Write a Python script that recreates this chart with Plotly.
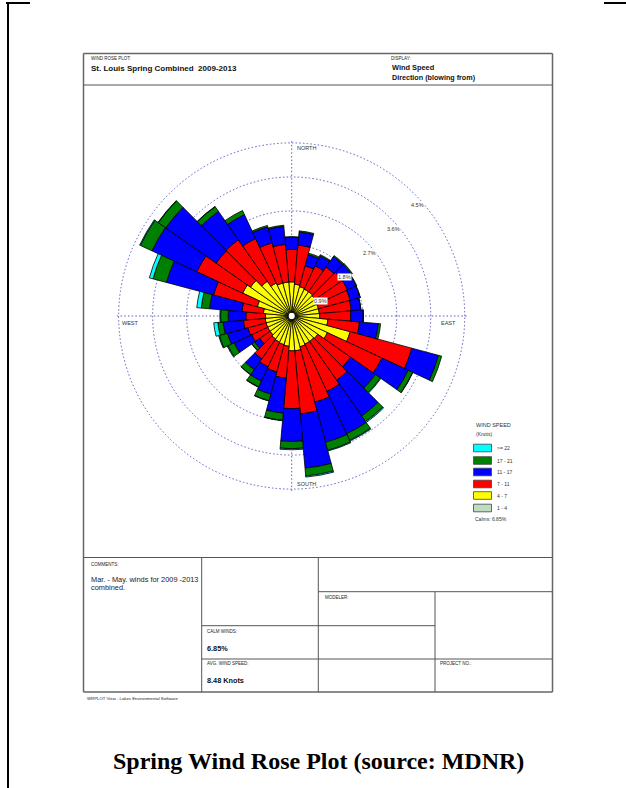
import plotly.graph_objects as go

W, H = 626, 788

directions = [0, 10, 20, 30, 40, 50, 60, 70, 80, 90, 100, 110, 120, 130, 140, 150, 160, 170,
              180, 190, 200, 210, 220, 230, 240, 250, 260, 270, 280, 290, 300, 310, 320, 330, 340, 350]

ws_1_4 = [0.05] * 36
ws_4_7 = [0.77, 0.71, 0.67, 0.65, 0.65, 0.63, 0.61, 0.60, 0.60, 0.61, 0.83, 1.47, 0.91, 0.71, 0.69, 0.69, 0.71, 0.79,
          0.79, 0.67, 0.65, 0.63, 0.61, 0.57, 0.57, 0.57, 0.57, 0.56, 0.62, 0.81, 1.30, 1.20, 0.99, 0.83, 0.77, 0.77]
ws_7_11 = [0.86, 1.04, 0.57, 0.68, 0.80, 0.87, 0.89, 0.87, 0.85, 0.82, 0.84, 1.69, 1.59, 1.06, 1.25, 1.38, 1.52, 1.68,
           1.53, 0.85, 0.75, 0.72, 0.64, 0.33, 0.47, 0.50, 0.58, 0.52, 0.57, 1.20, 1.34, 1.11, 1.34, 1.30, 1.10, 1.00]
ws_11_17 = [0.32, 0.35, 0.31, 0.30, 0.34, 0.30, 0.25, 0.27, 0.25, 0.33, 0.50, 0.73, 0.77, 0.80, 1.16, 1.24, 1.10, 1.44,
            0.87, 0.93, 0.61, 0.42, 0.35, 0.17, 0.51, 0.56, 0.54, 0.47, 0.86, 1.29, 1.31, 1.63, 0.92, 0.70, 0.44, 0.48]
ws_17_21 = [0.02, 0.03, 0.04, 0.03, 0.03, 0.03, 0.02, 0.01, 0.01, 0.01, 0.06, 0.09, 0.13, 0.16, 0.18, 0.19, 0.22, 0.21,
            0.19, 0.19, 0.18, 0.17, 0.16, 0.08, 0.18, 0.22, 0.14, 0.20, 0.22, 0.37, 0.34, 0.24, 0.15, 0.12, 0.04, 0.03]
ws_22 = [0.0, 0.0, 0.0, 0.0, 0.0, 0.0, 0.0, 0.0, 0.0, 0.0, 0.0, 0.0, 0.01, 0.02, 0.03, 0.02, 0.02, 0.03,
         0.03, 0.01, 0.01, 0.01, 0.01, 0.01, 0.02, 0.02, 0.11, 0.02, 0.12, 0.10, 0.02, 0.01, 0.01, 0.0, 0.0, 0.0]

classes = ["1 - 4", "4 - 7", "7 - 11", "11 - 17", "17 - 21", ">= 22"]
class_values = [ws_1_4, ws_4_7, ws_7_11, ws_11_17, ws_17_21, ws_22]
class_colors = ["#c0dcc0", "#ffff00", "#ff0000", "#0000ff", "#008000", "#00ffff"]

ring_values = [0.9, 1.8, 2.7, 3.6, 4.5]
ring_labels = ["0.9%", "1.8%", "2.7%", "3.6%", "4.5%"]
compass_labels = ["NORTH", "EAST", "SOUTH", "WEST"]
calm_pct = "6.85%"
avg_speed = "8.48 Knots"

# ---------------- geometry ----------------
CX, CY = 291.7, 316.0          # centre of rose, px
R_MAX = 4.57                   # radial range (4.5 ring sits just inside)
R_PX = 173.0 * R_MAX / 4.5     # radius of polar area, px
HOLE = 0.018

def px(x):
    return x / W

def py(y):
    return 1 - y / H

def r_to_px(v):
    return R_PX * (HOLE + (1 - HOLE) * v / R_MAX)

FONT = "Liberation Sans, Arial, sans-serif"

fig = go.Figure()
for name, vals, col in zip(classes, class_values, class_colors):
    fig.add_trace(go.Barpolar(
        r=vals, theta=directions, width=[10] * len(directions), name=name,
        marker=dict(color=col, line=dict(color="black", width=0.8)),
        showlegend=False,
    ))

grid_col = "#5c5cc8"
grid_dash = "1.5px,2.2px"
fig.update_layout(
    width=W, height=H,
    margin=dict(l=0, r=0, t=0, b=0),
    paper_bgcolor="white",
    plot_bgcolor="white",
    polar=dict(
        domain=dict(x=[px(CX - R_PX), px(CX + R_PX)], y=[py(CY + R_PX), py(CY - R_PX)]),
        hole=HOLE,
        bgcolor="white",
        barmode="stack",
        radialaxis=dict(range=[0, R_MAX], tickvals=ring_values, showticklabels=False, ticks="",
                        showline=False, gridcolor=grid_col, griddash=grid_dash, gridwidth=1.3, angle=45),
        angularaxis=dict(rotation=90, direction="clockwise", tickvals=[0, 90, 180, 270],
                         showticklabels=False, ticks="", showline=False,
                         gridcolor=grid_col, griddash=grid_dash, gridwidth=1.3),
    ),
)

shapes = []
def line(x0, y0, x1, y1, color="#555", width=1):
    shapes.append(dict(type="line", xref="paper", yref="paper", x0=px(x0), y0=py(y0), x1=px(x1), y1=py(y1),
                       line=dict(color=color, width=width)))

# page border
line(8, 3, 8, 788, "black", 2)
line(6, 3, 30, 3, "black", 2)
line(604, 3, 626, 3, "black", 2)

# frame
L, T, Rr, B = 83.5, 53.5, 552.5, 692.0
line(L, T, Rr, T, "#666", 1.5)
line(L, B, Rr, B, "#666", 1.5)
line(L, T, L, B, "#666", 1.5)
line(Rr, T, Rr, B, "#666", 1.5)
line(L, 85, Rr, 85, "#555", 1)
line(L, 557.5, Rr, 557.5, "#555", 1)
# table
line(201.7, 557.5, 201.7, B)
line(318.3, 557.5, 318.3, B)
line(435, 591.7, 435, B)
line(318.3, 591.7, Rr, 591.7)
line(201.7, 625.7, 435, 625.7)
line(201.7, 659, Rr, 659)

# legend boxes
box_y = [448, 460.5, 472, 484, 495.5, 508]   # >=22 .. 1-4 (top to bottom)
for i, (name, col) in enumerate(zip(classes[::-1], class_colors[::-1])):
    yc = box_y[i]
    shapes.append(dict(type="rect", xref="paper", yref="paper",
                       x0=px(473.5), x1=px(491.5), y0=py(yc - 3.8), y1=py(yc + 3.8),
                       fillcolor=col, line=dict(color="#444", width=0.8)))

fig.update_layout(shapes=shapes)

ann = []
def text(x, y, s, size=5, bold=False, color="#222", xanchor="left", family=FONT, bg=None):
    d = dict(xref="paper", yref="paper", x=px(x), y=py(y), text=("<b>%s</b>" % s) if bold else s,
             showarrow=False, xanchor=xanchor, yanchor="middle",
             font=dict(size=size, color=color, family=family))
    if bg:
        d["bgcolor"] = bg
        d["borderpad"] = 0
    ann.append(d)

# header
text(89, 58, "WIND ROSE PLOT:", 4.5)
text(89, 69, "St. Louis Spring Combined  2009-2013", 8.0, True, "#111")
text(389, 58, "DISPLAY:", 4.5)
text(390, 67.5, "Wind Speed", 7.4, True, "#111")
text(390, 77.5, "Direction (blowing from)", 7.2, True, "#111")

# compass labels
text(CX + 3, CY - 168, compass_labels[0], 5.5, color="#333")
text(CX + 166.5, CY + 6.5, compass_labels[1], 5.5, color="#333", xanchor="right")
text(CX + 3, CY + 168, compass_labels[2], 5.5, color="#333")
text(CX - 171.5, CY + 6.5, compass_labels[3], 5.5, color="#333")

# ring labels along NE diagonal
for v, lab in zip(ring_values, ring_labels):
    rp = r_to_px(v)
    x = CX + rp * 0.7071 + 3
    y = CY - rp * 0.7071 + 11.5
    text(x, y, lab, 5.5, color="#333", xanchor="center", bg="white")

# legend
text(474, 425, "WIND SPEED", 5.5, color="#333")
text(474, 434, "(Knots)", 5, color="#333")
for i, name in enumerate(classes[::-1]):
    text(495, box_y[i], name, 5, color="#333")
text(473, 518.5, "Calms: " + calm_pct, 5, color="#333")

# table text
text(89, 564, "COMMENTS:", 4.5)
text(89, 579.5, "Mar. - May. winds for 2009 -2013", 7.4, color="#222")
text(89, 587.5, "combined.", 7.4, color="#222")
text(323, 597, "MODELER:", 4.5)
text(205, 631, "CALM WINDS:", 4.5)
text(205, 648, calm_pct, 7.3, True, "#111")
text(205, 663, "AVG. WIND SPEED:", 4.5)
text(205, 680, avg_speed, 7.3, True, "#111")
text(438, 663, "PROJECT NO.:", 4.5)
text(85, 698, "WRPLOT View - Lakes Environmental Software", 4.3)

# caption
text(318.5, 761, "Spring Wind Rose Plot (source: MDNR)", 24, True, "black", xanchor="center",
     family="Liberation Serif, Times New Roman, serif")

fig.update_layout(annotations=ann)
fig.write_html("out.html")
